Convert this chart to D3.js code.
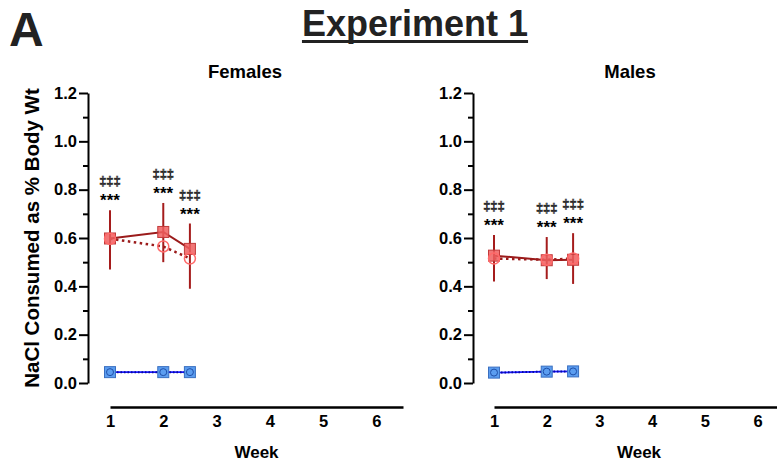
<!DOCTYPE html>
<html>
<head>
<meta charset="utf-8">
<script src="https://cdn.jsdelivr.net/npm/d3@7"></script>
<style>
  body { margin: 0; background: #fff; }
  svg { display: block; font-family: "Liberation Sans", Arial, sans-serif; }
</style>
</head>
<body>
<div id="chart"></div>
<script>
// data
const weeks = [1, 2, 2.5];
const weekTicks = [1, 2, 3, 4, 5, 6];
const yTicks = [0, 0.2, 0.4, 0.6, 0.8, 1.0, 1.2];
const yMinorTicks = [0.1, 0.3, 0.5, 0.7, 0.9, 1.1];

const femaleSalt = [0.598, 0.625, 0.555];
const femaleSaltLow = [0.47, 0.50, 0.39];
const femaleSaltHigh = [0.715, 0.745, 0.66];
const femaleSalt2 = [0.597, 0.565, 0.515];
const femaleWater = [0.045, 0.045, 0.045];

const maleSalt = [0.527, 0.508, 0.51];
const maleSaltLow = [0.42, 0.43, 0.41];
const maleSaltHigh = [0.612, 0.604, 0.62];
const maleSalt2 = [0.515, 0.51, 0.515];
const maleWater = [0.043, 0.047, 0.048];

const sigStars = ["***", "***", "***"];
const sigDaggers = ["‡‡‡", "‡‡‡", "‡‡‡"];

const width = 777;
const height = 465;

const svg = d3.select("#chart").append("svg")
  .attr("width", width)
  .attr("height", height);

// header
svg.append("text")
  .attr("x", 9).attr("y", 46)
  .attr("font-size", 48).attr("font-weight", "bold")
  .attr("fill", "#222")
  .text("A");

const title = svg.append("text")
  .attr("x", 415).attr("y", 36)
  .attr("text-anchor", "middle")
  .attr("font-size", 36).attr("font-weight", "bold")
  .attr("fill", "#222")
  .text("Experiment 1");
const tb = title.node().getBBox();
svg.append("rect")
  .attr("x", tb.x).attr("y", 40)
  .attr("width", tb.width).attr("height", 3)
  .attr("fill", "#222");

// y axis title
svg.append("text")
  .attr("transform", "translate(39,238) rotate(-90)")
  .attr("text-anchor", "middle")
  .attr("font-size", 20.5).attr("font-weight", "bold")
  .text("NaCl Consumed as % Body Wt");

const salt = "#9b1b1b";
const water = "#1515ff";

function drawPanel(opts) {
  const x = d3.scaleLinear().domain([1, 6.5]).range(opts.xRange);
  const y = d3.scaleLinear().domain([0, 1.2]).range([383, 93]);
  const g = svg.append("g");

  // panel title
  g.append("text")
    .attr("x", opts.axisX + 157).attr("y", 78)
    .attr("text-anchor", "middle")
    .attr("font-size", 18.5).attr("font-weight", "bold")
    .text(opts.title);

  // y axis
  const yAxis = g.append("g")
    .attr("transform", `translate(${opts.axisX},0)`)
    .call(d3.axisLeft(y).tickValues(yTicks).tickFormat(d3.format(".1f"))
      .tickSize(9).tickSizeOuter(0).tickPadding(2));
  yAxis.selectAll("text").attr("font-size", 16.5).attr("font-weight", "bold")
    .attr("font-family", "Liberation Sans, Arial, sans-serif").attr("fill", "#000");
  yAxis.selectAll("path, line").attr("stroke-width", 2).attr("stroke", "#000");

  const yMinor = g.append("g")
    .attr("transform", `translate(${opts.axisX},0)`)
    .call(d3.axisLeft(y).tickValues(yMinorTicks).tickFormat("")
      .tickSize(5).tickSizeOuter(0));
  yMinor.select(".domain").remove();
  yMinor.selectAll("line").attr("stroke-width", 2).attr("stroke", "#000");

  // x axis (offset, no ticks)
  const xAxis = g.append("g")
    .attr("transform", "translate(0,407)")
    .call(d3.axisBottom(x).tickValues(weekTicks).tickFormat(d3.format("d"))
      .tickSize(0).tickSizeOuter(0).tickPadding(8));
  xAxis.selectAll("text").attr("font-size", 16.5).attr("font-weight", "bold")
    .attr("font-family", "Liberation Sans, Arial, sans-serif").attr("fill", "#000");
  xAxis.select(".domain").attr("stroke-width", 2.5).attr("stroke", "#000");

  g.append("text")
    .attr("x", (opts.xRange[0] + opts.xRange[1]) / 2).attr("y", 458)
    .attr("text-anchor", "middle")
    .attr("font-size", 17).attr("font-weight", "bold")
    .text("Week");

  const line = (vals) => d3.line()
    .x((d, i) => x(weeks[i]))
    .y((d) => y(d))(vals);

  // water lines
  g.append("path").attr("d", line(opts.water))
    .attr("fill", "none").attr("stroke", water).attr("stroke-width", 1.8);
  g.append("path").attr("d", line(opts.water))
    .attr("fill", "none").attr("stroke", "#0a0aa0").attr("stroke-width", 2)
    .attr("stroke-dasharray", "1.5,2");

  // salt lines
  g.append("path").attr("d", line(opts.salt2))
    .attr("fill", "none").attr("stroke", salt).attr("stroke-width", 2.5)
    .attr("stroke-dasharray", "2.5,3.5");
  g.append("path").attr("d", line(opts.salt))
    .attr("fill", "none").attr("stroke", salt).attr("stroke-width", 2);

  // error bars
  g.selectAll(".err").data(weeks).join("line")
    .attr("class", "err")
    .attr("x1", (d) => x(d)).attr("x2", (d) => x(d))
    .attr("y1", (d, i) => y(opts.low[i]))
    .attr("y2", (d, i) => y(opts.high[i]))
    .attr("stroke", "#a51c1c").attr("stroke-width", 2);

  // markers
  const sq = 11;
  g.selectAll(".wsq").data(opts.water).join("rect")
    .attr("class", "wsq")
    .attr("x", (d, i) => x(weeks[i]) - sq / 2)
    .attr("y", (d) => y(d) - sq / 2)
    .attr("width", sq).attr("height", sq)
    .attr("fill", "#5b9df0").attr("stroke", "#3a6fc0").attr("stroke-width", 1);
  g.selectAll(".wci").data(opts.water).join("circle")
    .attr("class", "wci")
    .attr("cx", (d, i) => x(weeks[i]))
    .attr("cy", (d) => y(d))
    .attr("r", 3.5)
    .attr("fill", "none").attr("stroke", "#1f4fa8").attr("stroke-width", 1);

  g.selectAll(".ssq").data(opts.salt).join("rect")
    .attr("class", "ssq")
    .attr("x", (d, i) => x(weeks[i]) - sq / 2)
    .attr("y", (d) => y(d) - sq / 2)
    .attr("width", sq).attr("height", sq)
    .attr("fill", "#ee5f5f").attr("fill-opacity", 0.85)
    .attr("stroke", "#c23a3a").attr("stroke-width", 1);
  g.selectAll(".sci").data(opts.salt2).join("circle")
    .attr("class", "sci")
    .attr("cx", (d, i) => x(weeks[i]))
    .attr("cy", (d) => y(d))
    .attr("r", 5.5)
    .attr("fill", "none").attr("stroke", "#ff6a6a").attr("stroke-width", 1.5);

  // significance marks
  g.selectAll(".stars").data(sigStars).join("text")
    .attr("class", "stars")
    .attr("x", (d, i) => x(weeks[i]))
    .attr("y", (d, i) => y(opts.high[i]) - 4)
    .attr("text-anchor", "middle")
    .attr("font-size", 17).attr("font-weight", "bold")
    .text((d) => d);
  g.selectAll(".dagger").data(sigDaggers).join("text")
    .attr("class", "dagger")
    .attr("x", (d, i) => x(weeks[i]))
    .attr("y", (d, i) => y(opts.high[i]) - 25)
    .attr("text-anchor", "middle")
    .attr("font-size", 13)
    .attr("fill", "#fff").attr("stroke", "#222").attr("stroke-width", 0.7)
    .text((d) => d);
}

drawPanel({
  title: "Females", axisX: 88, xRange: [110, 403],
  salt: femaleSalt, salt2: femaleSalt2, low: femaleSaltLow, high: femaleSaltHigh,
  water: femaleWater
});
drawPanel({
  title: "Males", axisX: 473, xRange: [494, 784],
  salt: maleSalt, salt2: maleSalt2, low: maleSaltLow, high: maleSaltHigh,
  water: maleWater
});
</script>
</body>
</html>
